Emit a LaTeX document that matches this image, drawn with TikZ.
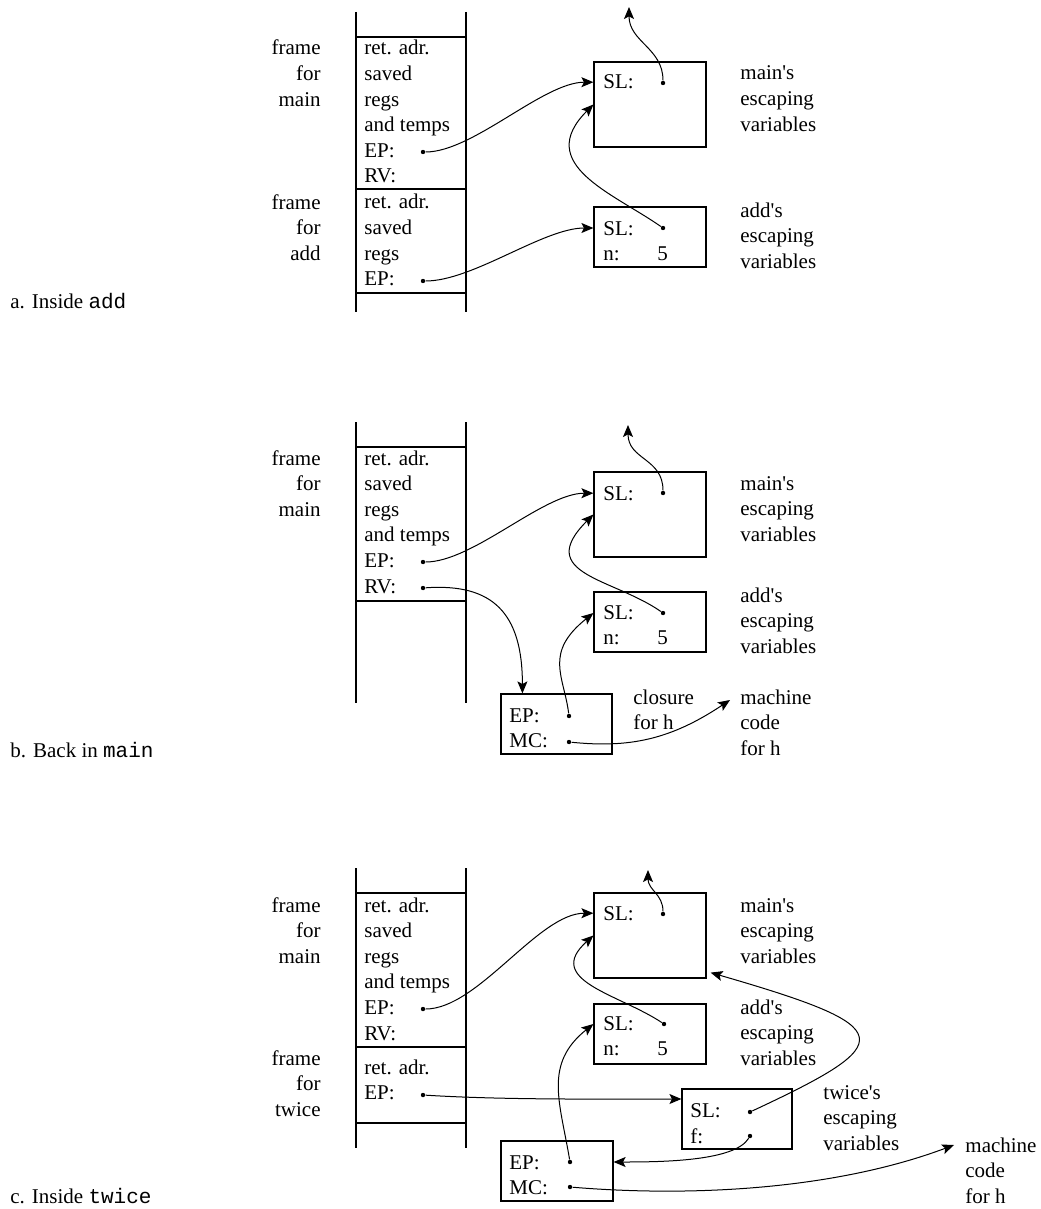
\documentclass[tikz,border=0pt]{standalone}
\usepackage{fontspec}
\setmainfont{Liberation Serif}
\setmonofont{Liberation Mono}
\usetikzlibrary{arrows.meta,positioning}
\newcommand{\sq}{\textquotesingle}
\tikzset{
  lbl/.style={anchor=base west,align=left,inner sep=0pt},
  rlbl/.style={anchor=base east,align=right,inner sep=0pt},
  membox/.style={draw,line width=0.6pt,inner sep=0pt,minimum width=56pt,minimum height=30pt},
  bigbox/.style={membox,minimum height=42.5pt},
  pdot/.style={circle,fill,inner sep=0pt,minimum size=2.2pt},
  ptr/.style={-{Stealth[length=6pt,width=5pt,inset=1.3pt]},line width=0.5pt},
  stk/.style={line width=0.7pt}
}

\begin{document}
\begin{tikzpicture}[x=0.5pt,y=-0.5pt,font=\fontsize{10.5}{12.8}\selectfont]
  \useasboundingbox (0,0) rectangle (1040,1209);

  \draw[stk] (356,12) -- (356,312) (466,12) -- (466,312);
  \draw[stk] (356,37) -- (466,37) (356,189) -- (466,189) (356,293) -- (466,293);
  \node[rlbl] (aFmain) at (321,106.2) {frame\\for\\main};
  \node[lbl] (aSmain) at (364,183) {ret. adr.\\saved\\regs\\and temps\\EP:\\RV:};
  \node[rlbl] (aFadd) at (321,260.2) {frame\\for\\add};
  \node[lbl] (aSadd) at (364,285.8) {ret. adr.\\saved\\regs\\EP:};
  \node[pdot] (aEPm) at (423,152) {};
  \node[pdot] (aEPa) at (423,281) {};
  \node[bigbox] (amain) at (650,104.5) {};
  \node[lbl] (aSL) at (603,89) {SL:};
  \node[pdot] (aSLmd) at (663,83) {};
  \node[lbl] (aMlab) at (740,131.2) {main\sq s\\escaping\\variables};
  \node[membox] (aadd) at (650,237) {};
  \node[lbl] (aSLa) at (603,260.6) {SL:\\n:};
  \node[lbl] (aN) at (657,260.6) {5};
  \node[pdot] (aSLad) at (663,228) {};
  \node[lbl] (aAlab) at (740,268.2) {add\sq s\\escaping\\variables};
  \node[lbl] (acap) at (10,308) {a. Inside \texttt{add}};
  \coordinate (atop) at (629,7);
  \draw[ptr] (aEPm) .. controls +(50,0) and +(-50,0) .. (amain.west |- aSL);
  \draw[ptr] (aEPa) .. controls +(50,0) and +(-50,0) .. (aadd.west |- aSLad);
  \draw[ptr] (aSLad) .. controls +(-50,-35) and +(-60,60) .. (amain.west);
  \draw[ptr] (aSLmd) .. controls +(0,-35) and +(0,35) .. (atop);

  \draw[stk] (356,422) -- (356,703) (466,422) -- (466,703);
  \draw[stk] (356,447) -- (466,447) (356,601) -- (466,601);
  \node[rlbl] (bFmain) at (321,516.2) {frame\\for\\main};
  \node[lbl] (bSmain) at (364,593) {ret. adr.\\saved\\regs\\and temps\\EP:\\RV:};
  \node[pdot] (bEPm) at (423,562) {};
  \node[pdot] (bRVm) at (423,588) {};
  \node[bigbox] (bmain) at (650,514.5) {};
  \node[lbl] (bSL) at (603,500) {SL:};
  \node[pdot] (bSLmd) at (663,493) {};
  \node[lbl] (bMlab) at (740,541.2) {main\sq s\\escaping\\variables};
  \node[membox] (badd) at (650,622) {};
  \node[lbl] (bSLa) at (603,644.6) {SL:\\n:};
  \node[lbl] (bN) at (657,644.6) {5};
  \node[pdot] (bSLad) at (663,613) {};
  \node[lbl] (bAlab) at (740,653.2) {add\sq s\\escaping\\variables};
  \node[membox,minimum width=55.5pt] (bclo) at (556.5,724) {};
  \node[lbl] (bEPMC) at (509,747.6) {EP:\\MC:};
  \node[pdot] (bEPc) at (569,716) {};
  \node[pdot] (bMCc) at (569,742) {};
  \node[lbl] (bClab) at (633,729.6) {closure\\for h};
  \node[lbl] (bCode) at (740,755.2) {machine\\code\\for h};
  \node[lbl] (bcap) at (10,757) {b. Back in \texttt{main}};
  \coordinate (btop) at (628,425);
  \coordinate (bcode) at (730,700);
  \draw[ptr] (bEPm) .. controls +(50,0) and +(-50,0) .. (bmain.west |- bSL);
  \draw[ptr] (bSLad) .. controls +(-50,-35) and +(-60,60) .. (bmain.west);
  \draw[ptr] (bSLmd) .. controls +(0,-35) and +(0,35) .. (btop);
  \draw[ptr] (bRVm) .. controls +(70,-5) and +(0,-80) .. ([xshift=11pt]bclo.north west);
  \draw[ptr] (bEPc) .. controls +(-5,-40) and +(-50,40) .. (badd.west |- bSLad);
  \draw[ptr] (bMCc) .. controls +(60,6) and +(-60,40) .. (bcode);

  \draw[stk] (356,868) -- (356,1148) (466,868) -- (466,1148);
  \draw[stk] (356,893) -- (466,893) (356,1047) -- (466,1047) (356,1123) -- (466,1123);
  \node[rlbl] (cFmain) at (321,963.2) {frame\\for\\main};
  \node[lbl] (cSmain) at (364,1040) {ret. adr.\\saved\\regs\\and temps\\EP:\\RV:};
  \node[rlbl] (cFtw) at (321,1116.2) {frame\\for\\twice};
  \node[lbl] (cStw) at (364,1099.6) {ret. adr.\\EP:};
  \node[pdot] (cEPm) at (423,1009) {};
  \node[pdot] (cEPt) at (423,1095) {};
  \node[bigbox] (cmain) at (650,935.5) {};
  \node[lbl] (cSL) at (603,920) {SL:};
  \node[pdot] (cSLmd) at (663,914) {};
  \node[lbl] (cMlab) at (740,963.2) {main\sq s\\escaping\\variables};
  \node[membox] (cadd) at (650,1034) {};
  \node[lbl] (cSLa) at (603,1055.6) {SL:\\n:};
  \node[lbl] (cN) at (657,1055.6) {5};
  \node[pdot] (cSLad) at (664,1024) {};
  \node[lbl] (cAlab) at (740,1065.2) {add\sq s\\escaping\\variables};
  \node[membox,minimum width=55pt] (ctw) at (737,1119) {};
  \node[lbl] (cSLt) at (690,1143) {SL:\\f:};
  \node[pdot] (cSLtd) at (750,1112) {};
  \node[pdot] (cFtd) at (750,1136) {};
  \node[lbl] (cTlab) at (823,1150.2) {twice\sq s\\escaping\\variables};
  \node[membox] (cclo) at (557,1171) {};
  \node[lbl] (cEPMC) at (509,1194.6) {EP:\\MC:};
  \node[pdot] (cEPc) at (570,1162) {};
  \node[pdot] (cMCc) at (570,1187) {};
  \node[lbl] (cCode) at (965,1203.2) {machine\\code\\for h};
  \node[lbl] (ccap) at (10,1203) {c. Inside \texttt{twice}};
  \coordinate (ctop) at (648,870);
  \coordinate (ccode) at (954,1145);
  \draw[ptr] (cEPm) .. controls +(55,0) and +(-55,0) .. (cmain.west |- cSL);
  \draw[ptr] (cSLad) .. controls +(-45,-30) and +(-50,45) .. (cmain.west);
  \draw[ptr] (cSLmd) .. controls +(0,-20) and +(0,20) .. (ctop);
  \draw[ptr] (cEPt) .. controls +(80,5) and +(-80,0) .. ([yshift=-2pt]ctw.west |- cEPt);
  \draw[ptr] (cSLtd) .. controls +(150,-70) and +(190,55) .. ([shift={(2pt,3pt)}]cmain.south east);
  \draw[ptr] (cFtd) .. controls +(-15,25) and +(50,0) .. (cclo.east |- cEPc);
  \draw[ptr] (cEPc) .. controls +(-10,-60) and +(-50,40) .. (cadd.west |- cSLad);
  \draw[ptr] (cMCc) .. controls +(120,10) and +(-120,45) .. (ccode);
\end{tikzpicture}
\end{document}
